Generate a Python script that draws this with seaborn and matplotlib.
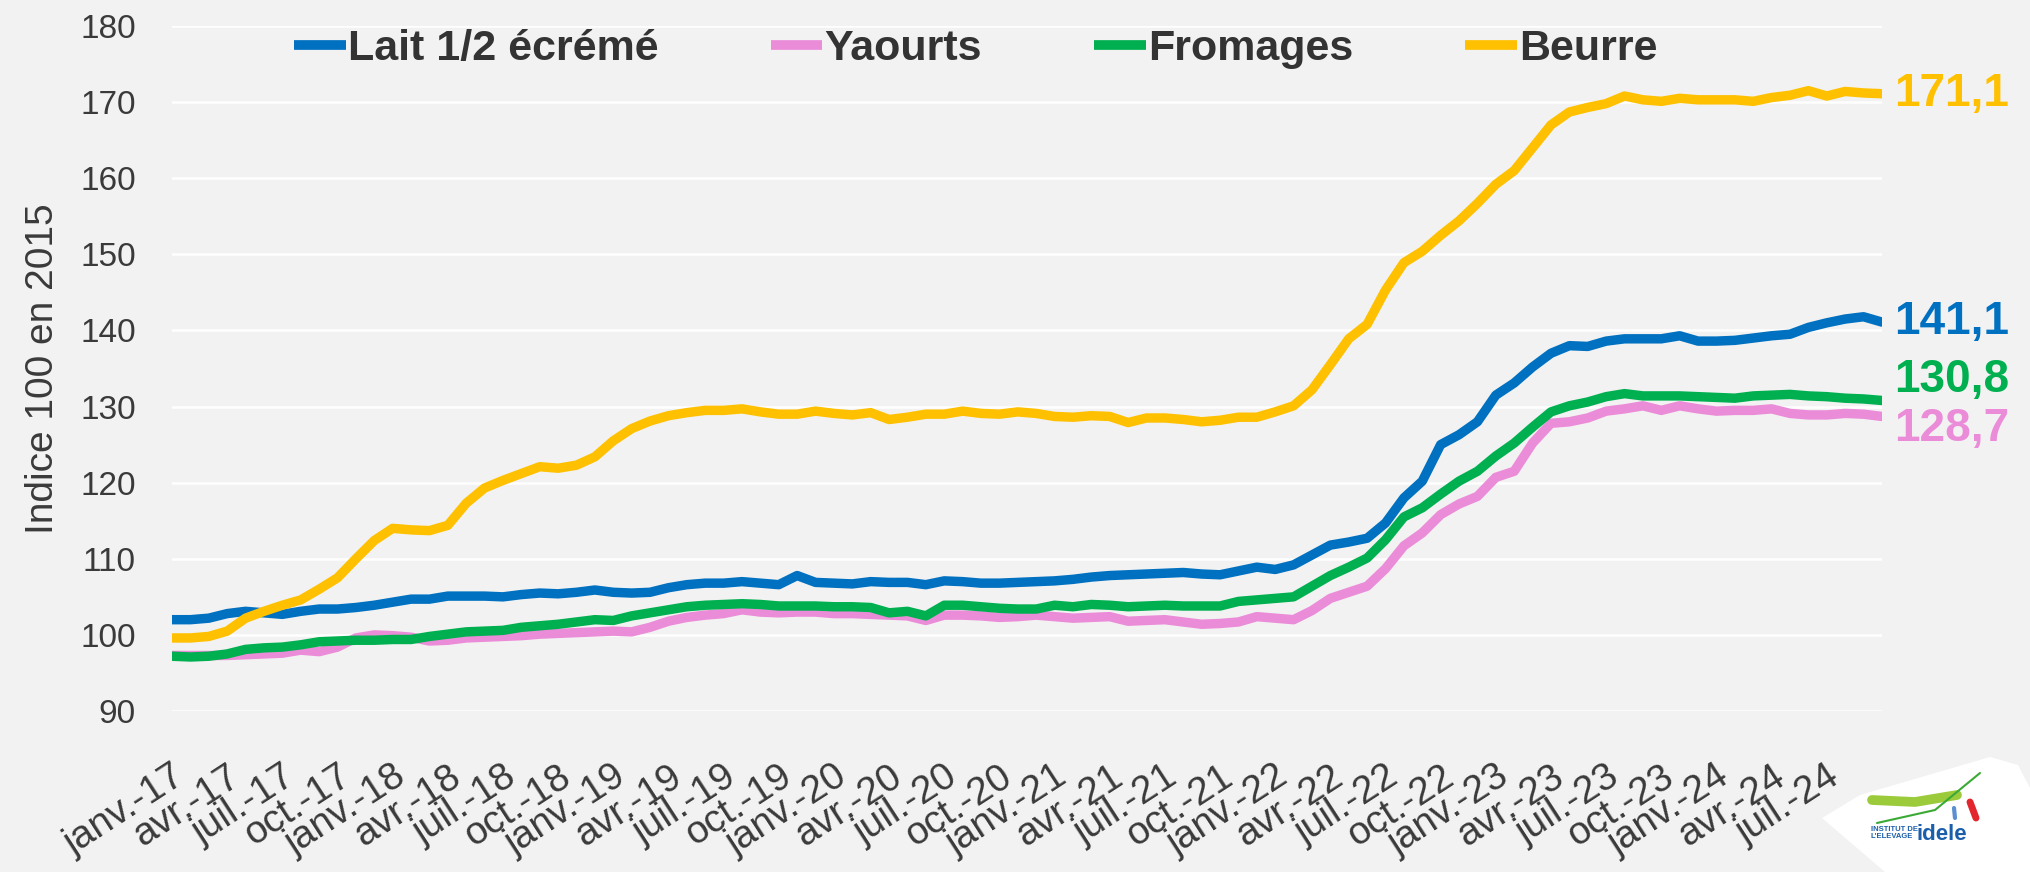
import numpy as np
import pandas as pd
import matplotlib
matplotlib.use("Agg")
import matplotlib.pyplot as plt
import seaborn as sns
from matplotlib import font_manager as fm
from matplotlib.lines import Line2D
from matplotlib.patches import Polygon

# ---------------- data ----------------
series_names = ["Lait 1/2 écrémé", "Yaourts", "Fromages", "Beurre"]
series_colors = ["#0070C0", "#EB8CD8", "#00B050", "#FFC000"]

lait = [102.0, 102.0, 102.2, 102.8, 103.1, 102.9, 102.7, 103.1, 103.4, 103.4,
        103.6, 103.9, 104.3, 104.7, 104.7, 105.1, 105.1, 105.1, 105.0, 105.3,
        105.5, 105.4, 105.6, 105.9, 105.6, 105.5, 105.6, 106.2, 106.6, 106.8,
        106.8, 107.0, 106.8, 106.6, 107.8, 106.9, 106.8, 106.7, 107.0, 106.9,
        106.9, 106.6, 107.1, 107.0, 106.8, 106.8, 106.9, 107.0, 107.1, 107.3,
        107.6, 107.8, 107.9, 108.0, 108.1, 108.2, 108.0, 107.9, 108.4, 108.9,
        108.6, 109.2, 110.5, 111.8, 112.2, 112.7, 114.7, 118.0, 120.2, 125.0,
        126.3, 128.0, 131.5, 133.1, 135.2, 137.0, 138.0, 137.9, 138.6, 138.9,
        138.9, 138.9, 139.3, 138.6, 138.6, 138.7, 139.0, 139.3, 139.5, 140.4,
        141.0, 141.5, 141.8, 141.1]

yaourts = [97.3, 97.3, 97.3, 97.3, 97.4, 97.5, 97.6, 98.0, 97.8, 98.4,
           99.6, 100.0, 99.9, 99.7, 99.2, 99.3, 99.6, 99.7, 99.8, 99.9,
           100.1, 100.2, 100.3, 100.4, 100.5, 100.4, 101.0, 101.8, 102.3, 102.6,
           102.8, 103.3, 103.0, 102.9, 103.0, 103.0, 102.8, 102.8, 102.7, 102.6,
           102.5, 101.9, 102.6, 102.6, 102.5, 102.3, 102.4, 102.6, 102.4, 102.2,
           102.3, 102.4, 101.8, 101.9, 102.0, 101.7, 101.4, 101.5, 101.7, 102.4,
           102.2, 102.0, 103.2, 104.8, 105.6, 106.4, 108.7, 111.7, 113.4, 115.8,
           117.2, 118.2, 120.7, 121.5, 125.2, 127.8, 128.0, 128.5, 129.4, 129.7,
           130.1, 129.5, 130.1, 129.7, 129.4, 129.5, 129.5, 129.7, 129.1, 128.9,
           128.9, 129.1, 129.0, 128.7]

fromages = [97.2, 97.1, 97.2, 97.5, 98.1, 98.3, 98.4, 98.7, 99.1, 99.2,
            99.3, 99.3, 99.4, 99.4, 99.8, 100.1, 100.4, 100.5, 100.6, 101.0,
            101.2, 101.4, 101.7, 102.0, 101.9, 102.5, 102.9, 103.3, 103.7, 103.9,
            104.0, 104.1, 104.0, 103.8, 103.8, 103.8, 103.7, 103.7, 103.6, 102.9,
            103.1, 102.5, 103.9, 103.9, 103.7, 103.5, 103.4, 103.4, 103.9, 103.7,
            104.0, 103.9, 103.7, 103.8, 103.9, 103.8, 103.8, 103.8, 104.4, 104.6,
            104.8, 105.0, 106.4, 107.8, 108.9, 110.1, 112.5, 115.5, 116.7, 118.5,
            120.2, 121.5, 123.5, 125.2, 127.3, 129.3, 130.1, 130.6, 131.3, 131.7,
            131.4, 131.4, 131.4, 131.3, 131.2, 131.1, 131.4, 131.5, 131.6, 131.4,
            131.3, 131.1, 131.0, 130.8]

beurre = [99.6, 99.6, 99.8, 100.5, 102.2, 103.1, 103.9, 104.6, 106.0, 107.5,
          110.0, 112.4, 114.0, 113.8, 113.7, 114.4, 117.3, 119.3, 120.3, 121.2,
          122.1, 121.9, 122.3, 123.4, 125.5, 127.1, 128.1, 128.8, 129.2, 129.5,
          129.5, 129.7, 129.3, 129.0, 129.0, 129.4, 129.1, 128.9, 129.2, 128.3,
          128.6, 129.0, 129.0, 129.4, 129.1, 129.0, 129.3, 129.1, 128.7, 128.6,
          128.8, 128.7, 127.9, 128.5, 128.5, 128.3, 128.0, 128.2, 128.6, 128.6,
          129.3, 130.1, 132.2, 135.5, 138.9, 140.8, 145.3, 148.9, 150.4, 152.5,
          154.4, 156.7, 159.2, 161.0, 164.0, 167.0, 168.7, 169.3, 169.8, 170.8,
          170.3, 170.1, 170.5, 170.3, 170.3, 170.3, 170.1, 170.6, 170.9, 171.5,
          170.8, 171.4, 171.2, 171.1]

end_labels = ["141,1", "128,7", "130,8", "171,1"]

tick_labels = ["janv.-17", "avr.-17", "juil.-17", "oct.-17",
               "janv.-18", "avr.-18", "juil.-18", "oct.-18",
               "janv.-19", "avr.-19", "juil.-19", "oct.-19",
               "janv.-20", "avr.-20", "juil.-20", "oct.-20",
               "janv.-21", "avr.-21", "juil.-21", "oct.-21",
               "janv.-22", "avr.-22", "juil.-22", "oct.-22",
               "janv.-23", "avr.-23", "juil.-23", "oct.-23",
               "janv.-24", "avr.-24", "juil.-24", ""]

y_ticks = [90, 100, 110, 120, 130, 140, 150, 160, 170, 180]

# ---------------- fonts ----------------
def has_font(name):
    try:
        fm.findfont(fm.FontProperties(family=name), fallback_to_default=False)
        return True
    except Exception:
        return False

SANS = "Liberation Sans" if has_font("Liberation Sans") else "DejaVu Sans"
NARROW = "Liberation Sans Narrow" if has_font("Liberation Sans Narrow") else SANS

sns.set_style("white")
plt.rcParams["font.family"] = [SANS, "DejaVu Sans"]
plt.rcParams["lines.solid_joinstyle"] = "round"

BG = "#F2F2F2"
TXT = "#3A3A3A"

values = [lait, yaourts, fromages, beurre]
n = len(lait)
df = pd.concat([pd.DataFrame({"mois": np.arange(len(v)), "indice": v, "produit": name})
                for name, v in zip(series_names, values)], ignore_index=True)

fig = plt.figure(figsize=(20.31, 8.72), dpi=100, facecolor=BG)
ax = fig.add_axes([0.0847, 0.1846, 0.8419, 0.7856], facecolor=BG)

sns.lineplot(data=df, x="mois", y="indice", hue="produit", hue_order=series_names,
             palette=series_colors, linewidth=6.8, legend=False, ax=ax)

ax.set_xlim(0, n - 1)
ax.set_ylim(90, 180)
ax.set_yticks(y_ticks)
ax.set_yticklabels([str(t) for t in y_ticks], fontfamily=NARROW,
                   fontsize=(26 if NARROW != SANS else 24), color=TXT)
ax.tick_params(axis="y", length=0, pad=26)

ax.set_xticks(np.arange(0, n, 3))
ax.set_xticklabels(tick_labels, rotation=33, ha="right", va="top", rotation_mode="anchor",
                   fontsize=28, color=TXT)
ax.tick_params(axis="x", length=8, width=1.5, color="white", pad=26)

ax.grid(axis="y", color="white", linewidth=1.8)
ax.grid(axis="x", visible=False)
for s in ax.spines.values():
    s.set_visible(False)
ax.set_axisbelow(True)
ax.set_xlabel("")
ax.set_ylabel("Indice 100 en 2015", fontsize=28, color=TXT, labelpad=14)

# legend
handles = [Line2D([0], [0], color=c, lw=7, solid_capstyle="butt") for c in series_colors]
leg = ax.legend(handles, series_names, ncol=4, loc="center", bbox_to_anchor=(0.470, 0.967),
                frameon=False, prop=fm.FontProperties(family=SANS, weight="bold", size=31),
                handlelength=1.2, handletextpad=0.05, columnspacing=2.6,
                labelcolor="#333333", borderaxespad=0)

# end labels
offsets = [0, -9, 15, 0]
for v, lab, col, dy in zip(values, end_labels, series_colors, offsets):
    ax.annotate(lab, xy=(n - 1, v[-1]), xytext=(9, dy), textcoords="offset points",
                ha="left", va="center", fontsize=33, fontweight="bold", color=col,
                annotation_clip=False)

# logo (decoration)
W, H = 2031, 872
def fx(x):
    return x / W
def fy(y):
    return 1 - y / H
shape = Polygon([(fx(1822), fy(818)), (fx(1860), fy(795)), (fx(1990), fy(757)),
                 (fx(2018), fy(765)), (fx(2031), fy(790)), (fx(2031), fy(872)),
                 (fx(1885), fy(872))], closed=True, transform=fig.transFigure,
                facecolor="white", edgecolor="none")
fig.add_artist(shape)
fig.add_artist(Line2D([fx(1872), fx(1915), fx(1957)], [fy(800), fy(802), fy(795)],
                      transform=fig.transFigure, color="#9BCB3B", lw=7, solid_capstyle="round"))
fig.add_artist(Line2D([fx(1877), fx(1935), fx(1980)], [fy(823), fy(810), fy(773)],
                      transform=fig.transFigure, color="#3BAA35", lw=1.5))
fig.add_artist(Line2D([fx(1970), fx(1976)], [fy(802), fy(818)],
                      transform=fig.transFigure, color="#E3262E", lw=5))
fig.add_artist(Line2D([fx(1954), fx(1955)], [fy(808), fy(818)],
                      transform=fig.transFigure, color="#5B8FD0", lw=3))
fig.text(fx(1871), fy(833), "INSTITUT DE\nL'ELEVAGE", fontsize=5.5, fontweight="bold",
         color="#1B5FAA", ha="left", va="center", linespacing=1.0)
fig.text(fx(1917), fy(834), "idele", fontsize=16, fontweight="bold", color="#1B5FAA",
         ha="left", va="center")

fig.savefig("out.png", dpi=100, facecolor=BG)
